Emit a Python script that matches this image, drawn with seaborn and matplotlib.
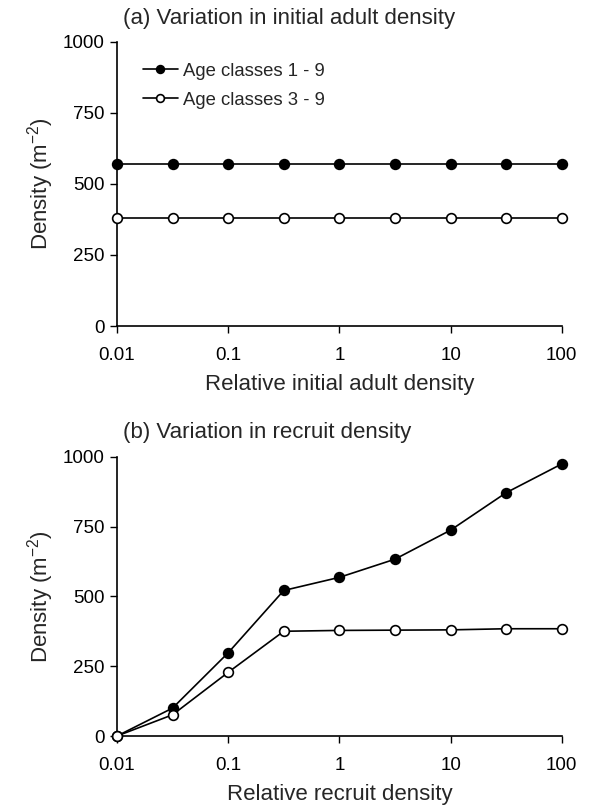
import matplotlib
matplotlib.use("Agg")
import matplotlib.pyplot as plt
import seaborn as sns
import numpy as np
import pandas as pd

sns.set_theme(style="ticks")
plt.rcParams['font.family'] = ['Liberation Sans', 'DejaVu Sans']

rel = [0.01, 0.0316, 0.1, 0.316, 1, 3.16, 10, 31.6, 100]
a_all = [570, 570, 570, 570, 570, 570, 570, 570, 570]
a_adult = [380, 380, 380, 380, 380, 380, 380, 380, 380]
b_all = [0, 100, 298, 521, 568, 633, 737, 871, 974]
b_adult = [0, 76, 228, 375, 378, 379, 380, 384, 384]
xticks = [0.01, 0.1, 1, 10, 100]
xticklabels = ["0.01", "0.1", "1", "10", "100"]
yticks = [0, 250, 500, 750, 1000]
labels = ["Age classes 1 - 9", "Age classes 3 - 9"]

fig = plt.figure(figsize=(5.97, 8.05), dpi=100)
ax1 = fig.add_axes([0.196, 0.595, 0.745, 0.353])
ax2 = fig.add_axes([0.196, 0.0857, 0.745, 0.347])

def panel(ax, y1, y2, title, xlabel, ty):
    df = pd.DataFrame({"x": rel, "y1": y1, "y2": y2})
    sns.lineplot(data=df, x="x", y="y1", ax=ax, color="black", lw=1.2,
                 marker="o", markersize=7, markerfacecolor="black",
                 markeredgecolor="black", markeredgewidth=1.2, label=labels[0],
                 clip_on=False, zorder=3)
    sns.lineplot(data=df, x="x", y="y2", ax=ax, color="black", lw=1.2,
                 marker="o", markersize=7, markerfacecolor="white",
                 markeredgecolor="black", markeredgewidth=1.2, label=labels[1],
                 clip_on=False, zorder=3)
    ax.set_xscale("log")
    ax.set_xlim(0.01, 100)
    ax.set_ylim(0, 1000)
    ax.set_xticks(xticks)
    ax.set_xticklabels(xticklabels)
    ax.minorticks_off()
    ax.set_yticks(yticks)
    ax.tick_params(direction="out", length=5, width=1, labelsize=13.5, colors="black", pad=4)
    ax.tick_params(axis="x", pad=10)
    for s in ["left", "bottom"]:
        ax.spines[s].set_linewidth(1.2)
        ax.spines[s].set_color("black")
    sns.despine(ax=ax)
    ax.set_xlabel(xlabel, fontsize=16, labelpad=7)
    ax.set_ylabel("Density (m$^{\\mathregular{-2}}$)", fontsize=16, labelpad=5)
    ax.text(0.013, ty, title, transform=ax.transAxes, fontsize=16, ha="left", va="center")

panel(ax1, a_all, a_adult, "(a) Variation in initial adult density", "Relative initial adult density", 1.081)
panel(ax2, b_all, b_adult, "(b) Variation in recruit density", "Relative recruit density", 1.085)

leg = ax1.legend(loc="upper left", bbox_to_anchor=(0.02, 0.985), frameon=False,
                 fontsize=13.3, handlelength=1.9, handletextpad=0.3, labelspacing=0.65,
                 markerscale=0.8)
ax2.get_legend().remove()

fig.savefig("out.png", dpi=100)
